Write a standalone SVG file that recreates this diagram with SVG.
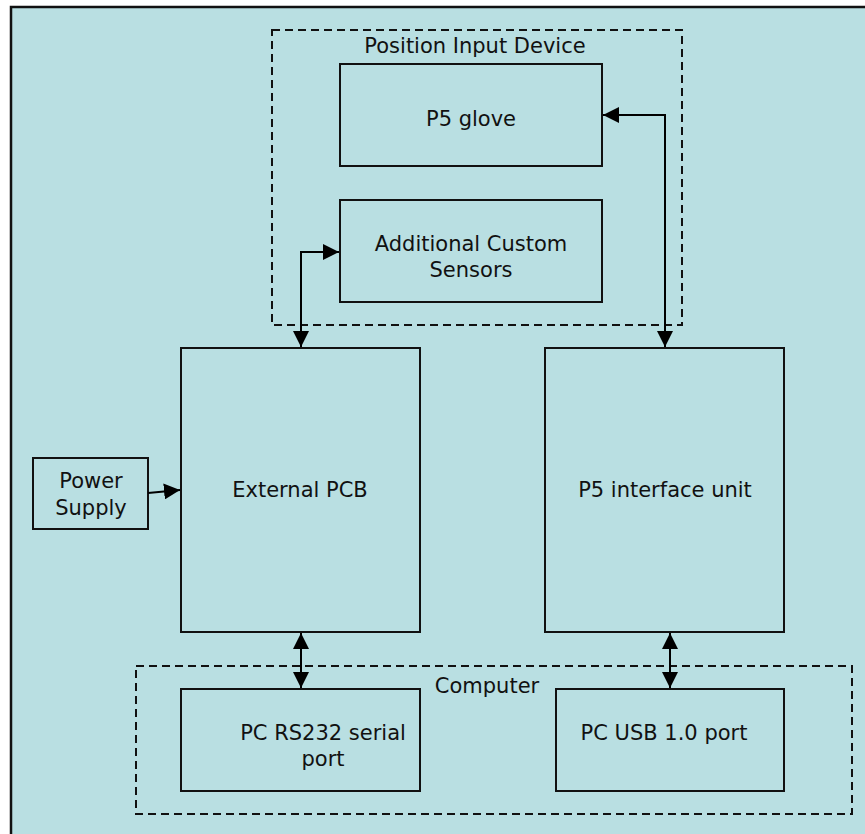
<svg xmlns="http://www.w3.org/2000/svg" width="865" height="834" viewBox="0 0 865 834">
<defs>
<style>
.frame{fill:#b9dfe2;stroke:#111;stroke-width:2.5}
.box{fill:#b9dfe2;stroke:#111;stroke-width:2}
.grp{fill:none;stroke:#111;stroke-width:2;stroke-dasharray:8 5}
.lbl{font-family:"DejaVu Sans",Verdana,sans-serif;font-size:21px;fill:#111;text-anchor:middle}
.con{fill:none;stroke:#000;stroke-width:2;marker-end:url(#ah)}
.bi{marker-start:url(#ah)}
</style>
<marker id="ah" markerUnits="userSpaceOnUse" markerWidth="16" markerHeight="16" viewBox="0 0 15 15" refX="15" refY="7.5" orient="auto-start-reverse">
<path d="M0,0 L15,7.5 L0,15 z" fill="#000"/>
</marker>
</defs>
<rect class="frame" x="11" y="7" width="870" height="840"/>
<g id="position-input-device">
<rect class="grp" x="272" y="30" width="410" height="295"/>
<text class="lbl" x="475" y="53">Position Input Device</text>
</g>
<g id="computer">
<rect class="grp" x="136" y="666" width="716" height="148"/>
<text class="lbl" x="487" y="693">Computer</text>
</g>
<g id="p5-glove">
<rect class="box" x="340" y="64" width="262" height="102"/>
<text class="lbl" x="471" y="126">P5 glove</text>
</g>
<g id="custom-sensors">
<rect class="box" x="340" y="200" width="262" height="102"/>
<text class="lbl" x="471" y="251">Additional Custom</text>
<text class="lbl" x="471" y="277">Sensors</text>
</g>
<g id="power-supply">
<rect class="box" x="33" y="458" width="115" height="71"/>
<text class="lbl" x="91" y="488">Power</text>
<text class="lbl" x="91" y="515">Supply</text>
</g>
<g id="external-pcb">
<rect class="box" x="181" y="348" width="239" height="284"/>
<text class="lbl" x="300" y="497">External PCB</text>
</g>
<g id="p5-interface">
<rect class="box" x="545" y="348" width="239" height="284"/>
<text class="lbl" x="665" y="497">P5 interface unit</text>
</g>
<g id="rs232">
<rect class="box" x="181" y="689" width="239" height="102"/>
<text class="lbl" x="323" y="740">PC RS232 serial</text>
<text class="lbl" x="323" y="766">port</text>
</g>
<g id="usb">
<rect class="box" x="556" y="689" width="228" height="102"/>
<text class="lbl" x="664" y="740">PC USB 1.0 port</text>
</g>
<g id="connectors">
<path class="con bi" d="M603,115 H665 V347"/>
<path class="con bi" d="M339,252 H301 V347"/>
<path class="con bi" d="M301,633 V688"/>
<path class="con bi" d="M670,633 V688"/>
<path class="con" d="M148,493 L180,490"/>
</g>
</svg>
